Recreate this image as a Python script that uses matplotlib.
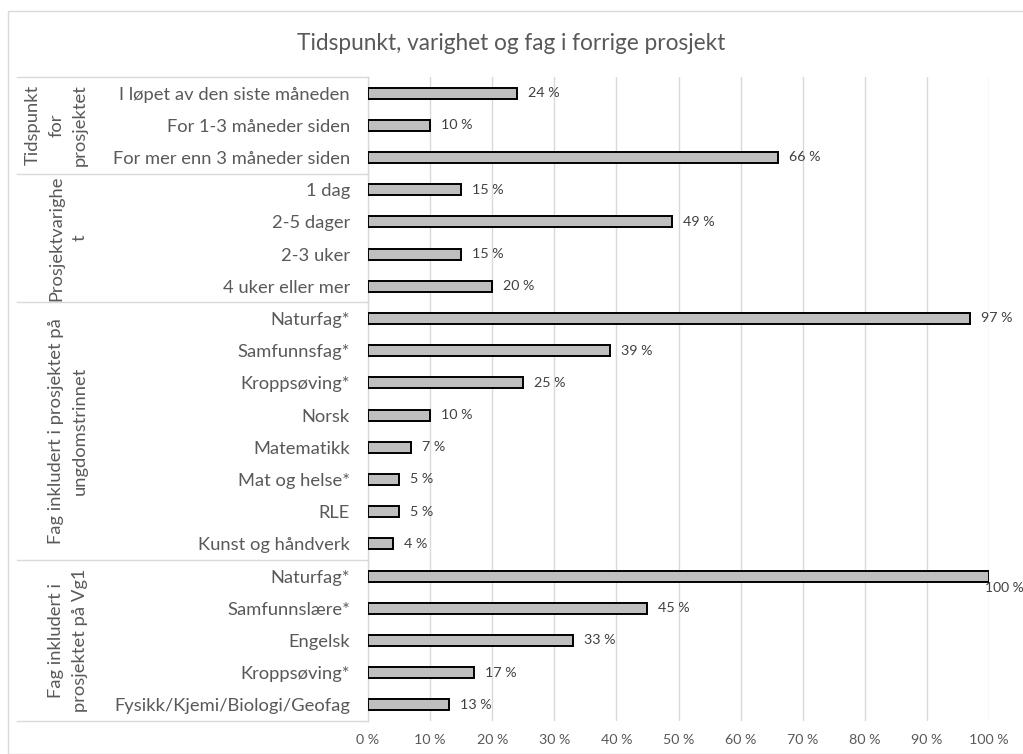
import matplotlib
matplotlib.use("Agg")
import matplotlib.pyplot as plt
from matplotlib.patches import Rectangle
from matplotlib.lines import Line2D
from matplotlib.transforms import blended_transform_factory, offset_copy

plt.rcParams['font.family'] = ['Lato', 'DejaVu Sans']

title = "Tidspunkt, varighet og fag i forrige prosjekt"

categories = [
    "I løpet av den siste måneden", "For 1-3 måneder siden", "For mer enn 3 måneder siden",
    "1 dag", "2-5 dager", "2-3 uker", "4 uker eller mer",
    "Naturfag*", "Samfunnsfag*", "Kroppsøving*", "Norsk", "Matematikk",
    "Mat og helse*", "RLE", "Kunst og håndverk",
    "Naturfag*", "Samfunnslære*", "Engelsk", "Kroppsøving*", "Fysikk/Kjemi/Biologi/Geofag",
]
values = [24, 10, 66, 15, 49, 15, 20, 97, 39, 25, 10, 7, 5, 5, 4, 100, 45, 33, 17, 13]

group_names = [
    "Tidspunkt\nfor\nprosjektet",
    "Prosjektvarighe\nt",
    "Fag inkludert i prosjektet på\nungdomstrinnet",
    "Fag inkludert i\nprosjektet på Vg1",
]
group_sizes = [3, 4, 8, 5]

x_ticks = list(range(0, 101, 10))
x_tick_labels = [f"{t} %" for t in x_ticks]

W, H = 1023, 754
fig = plt.figure(figsize=(W / 100, H / 100), dpi=100)
fig.patch.set_facecolor("white")

# outer chart frame
fig.add_artist(Rectangle((8 / W, 0), 1.2, 1 - 11 / H, transform=fig.transFigure,
                         fill=False, edgecolor="#d9d9d9", linewidth=1.0))

ax = fig.add_axes([368 / W, 1 - 721 / H, (989 - 368) / W, (721 - 77) / H])
n = len(categories)
rows = list(range(n))
ax.barh(rows, values, height=0.34, color="#bfbfbf", edgecolor="black", linewidth=1.4, zorder=3)
ax.set_xlim(0, 100)
ax.set_ylim(n - 0.5, -0.5)

ax.set_xticks(x_ticks)
ax.set_xticklabels(x_tick_labels, fontsize=10.3, color="#595959")
ax.tick_params(axis="x", length=0, pad=9)
ax.set_yticks(rows)
ax.set_yticklabels(categories, fontsize=13.2, color="#595959")
ax.tick_params(axis="y", length=0, pad=13)
ax.grid(axis="x", color="#d9d9d9", linewidth=1.0, zorder=0)
for side in ["top", "right", "bottom"]:
    ax.spines[side].set_visible(False)
ax.spines["left"].set_color("#d9d9d9")
ax.spines["left"].set_linewidth(1.0)

# value labels
for r, v in zip(rows, values):
    if v >= 99:
        tr = offset_copy(ax.transData, fig=fig, x=-4, y=-12, units="dots")
        fs = 10.0
    else:
        tr = offset_copy(ax.transData, fig=fig, x=11, y=0, units="dots")
        fs = 10.3
    ax.text(v, r, f"{v} %", transform=tr, ha="left", va="center",
            fontsize=fs, color="#404040", clip_on=False)

# group separators and group labels
bt = blended_transform_factory(fig.transFigure, ax.transData)
start = 0
bounds = [-0.5]
for name, size in zip(group_names, group_sizes):
    end = start + size
    bounds.append(end - 0.5)
    mid = (start + end - 1) / 2
    fig.text(88 / W, mid, name, transform=bt, rotation=90, ha="right", va="center",
             multialignment="center", fontsize=13.2, color="#595959",
             linespacing=1.6)
    start = end
for b in bounds:
    fig.add_artist(Line2D([17 / W, 368 / W], [b, b], transform=bt,
                          color="#d9d9d9", linewidth=1.0))

fig.text(0.5, 1 - 43 / H, title, ha="center", va="center", fontsize=16.3, color="#595959")

fig.savefig("out.png", dpi=100, facecolor="white")
